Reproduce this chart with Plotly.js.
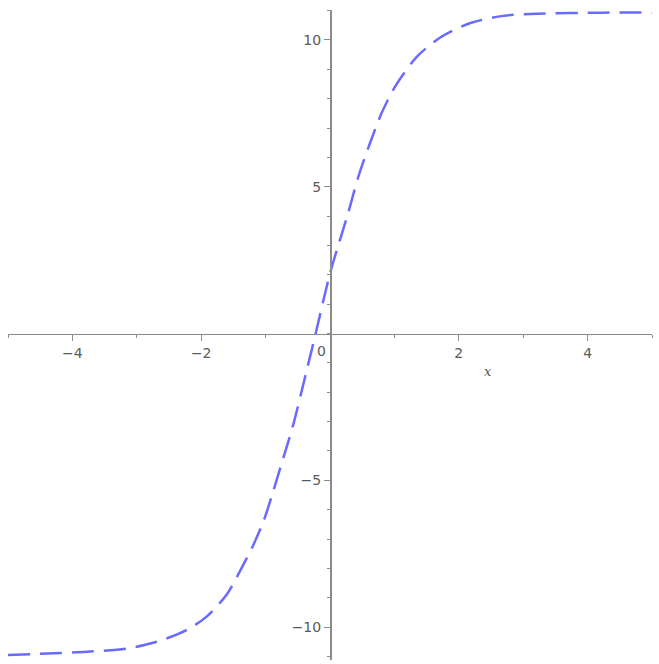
<!DOCTYPE html>
<html>
<head>
<meta charset="utf-8">
<script src="https://cdn.plot.ly/plotly-3.0.1.min.js"></script>
<style>
  html, body { margin: 0; padding: 0; background: #fff; }
  #plot { width: 659px; height: 664px; }
</style>
</head>
<body>
<div id="plot"></div>
<script>
// points
var xs = [-5, -4.4, -3.78, -3.16, -2.69, -2.23, -1.92, -1.6, -1.4, -1.19, -1.03, -0.88, -0.72, -0.57, -0.36, -0.21,
  0, 0.155, 0.28, 0.44, 0.62, 0.8, 1.01, 1.35, 1.73, 2.17, 2.69, 3.21, 4.24, 5];
var ys = [-10.95, -10.9, -10.84, -10.73, -10.5, -10.1, -9.65, -8.88, -8.1, -7.2, -6.38, -5.36, -4.2, -3.1, -1.24, 0.12,
  2.05, 3.19, 4.09, 5.34, 6.48, 7.5, 8.41, 9.43, 10.11, 10.57, 10.82, 10.89, 10.93, 10.93];

var xTicks = [-4, -2, 2, 4];
var yTicks = [-10, -5, 5, 10];

var xRange = [-5, 5];
var yRange = [-11.12, 11.02];

var axisGrey = '#8c8c8c';
var labelFont = {family: 'DejaVu Sans, sans-serif', size: 14, color: '#5a5a5a'};

var trace = {
  x: xs,
  y: ys,
  type: 'scatter',
  mode: 'lines',
  line: {color: '#6a6aff', width: 2.5, dash: '22px,10px', shape: 'spline', smoothing: 0.8},
  hoverinfo: 'skip'
};

var layout = {
  width: 659,
  height: 664,
  margin: {l: 8, r: 7, t: 10, b: 4},
  paper_bgcolor: 'white',
  plot_bgcolor: 'white',
  showlegend: false,
  xaxis: {
    range: xRange,
    anchor: 'free',
    position: -yRange[0] / (yRange[1] - yRange[0]),
    showline: true, linecolor: axisGrey, linewidth: 1.6,
    showgrid: false, zeroline: false,
    tickmode: 'array', tickvals: xTicks,
    ticks: 'outside', ticklen: 6, tickwidth: 1, tickcolor: axisGrey,
    minor: {dtick: 1, ticks: 'outside', ticklen: 3, tickcolor: axisGrey, showgrid: false},
    tickfont: labelFont
  },
  yaxis: {
    range: yRange,
    anchor: 'free',
    position: 0.5,
    showline: true, linecolor: axisGrey, linewidth: 1.6,
    showgrid: false, zeroline: false,
    tickmode: 'array', tickvals: yTicks,
    ticks: 'outside', ticklen: 6, tickwidth: 1, tickcolor: axisGrey,
    minor: {dtick: 1, ticks: 'outside', ticklen: 3, tickcolor: axisGrey, showgrid: false},
    tickfont: labelFont
  },
  annotations: [
    {x: 0, y: 0, xref: 'x', yref: 'y', text: '0', showarrow: false,
      xanchor: 'right', yanchor: 'top', xshift: -2, yshift: -7, font: labelFont},
    {x: 2.45, y: -1.3, xref: 'x', yref: 'y', text: '<i>x</i>', showarrow: false,
      xanchor: 'center', yanchor: 'middle', font: {family: 'DejaVu Serif, serif', size: 13, color: '#555'}}
  ]
};

Plotly.newPlot('plot', [trace], layout, {displayModeBar: false, staticPlot: true});
</script>
</body>
</html>
